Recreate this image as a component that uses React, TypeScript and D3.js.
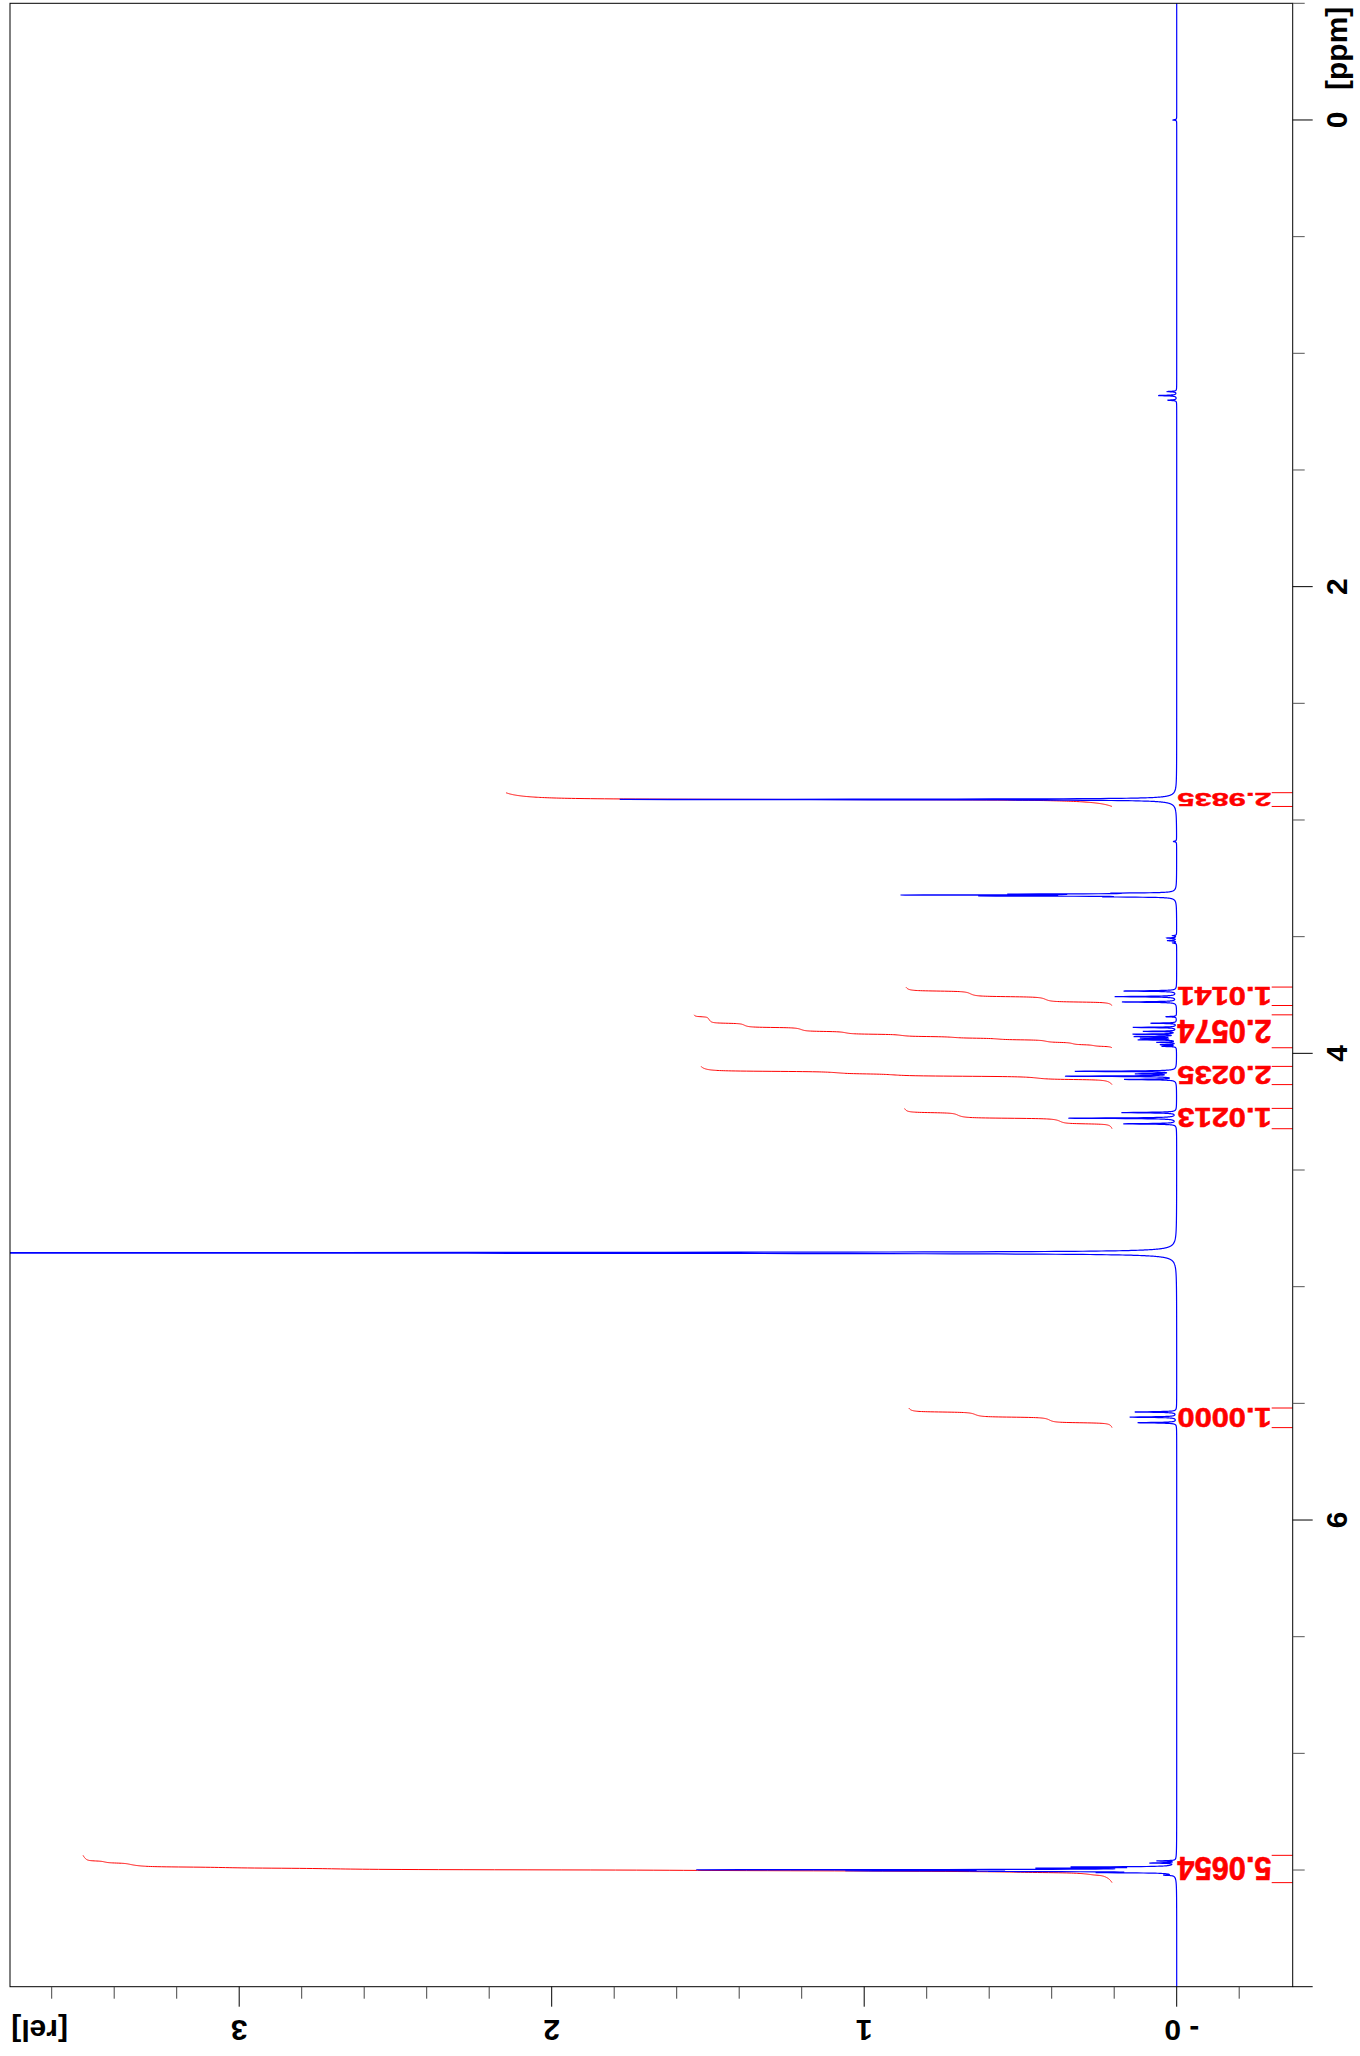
import React, { useMemo } from "react";
import * as d3 from "d3";

const W = 1360;
const H = 2056;

// Chemical shift axis (vertical, ppm)
const ppmDomain = [-0.5, 8.0];
const ppmLabelValues = [0, 2, 4, 6];
const ppmTickStep = 0.5;
// Intensity axis (horizontal, rel)
const relLabelValues = [0, 1, 2, 3];
const relLabelTexts = ["- 0", "1", "2", "3"];
const relTickStep = 0.2;
const relTickMin = -0.2;
const relTickMax = 3.6;

// Peak list: position (ppm), height (rel), half width (ppm)
const peakPpm = [
  0.0,
  1.164, 1.181, 1.201,
  2.912, 2.912,
  3.092,
  3.3135, 3.3175, 3.3215, 3.3255, 3.3295,
  3.496, 3.506, 3.517, 3.527,
  3.733, 3.757, 3.78,
  3.843, 3.871, 3.889, 3.906, 3.918, 3.928, 3.935, 3.942, 3.953, 3.963, 3.97,
  4.077, 4.088, 4.098, 4.112,
  4.254, 4.278, 4.302,
  4.855, 4.855,
  5.537, 5.559, 5.583,
  7.461, 7.47, 7.487, 7.492, 7.499, 7.503, 7.506, 7.511, 7.522,
];
const peakHeight = [
  0.012,
  0.029, 0.059, 0.029,
  1.76, 0.03,
  0.01,
  0.15, 0.45, 0.8, 0.55, 0.17,
  0.012, 0.03, 0.03, 0.012,
  0.169, 0.197, 0.175,
  0.035, 0.083, 0.139, 0.106, 0.138, 0.131, 0.11, 0.12, 0.062, 0.051, 0.046,
  0.323, 0.12, 0.353, 0.164,
  0.176, 0.347, 0.17,
  4.5, 0.02,
  0.134, 0.15, 0.125,
  0.06, 0.08, 0.3, 0.38, 1.45, 0.88, 0.42, 0.2, 0.03,
];
const peakWidth = [
  0.0015,
  0.0015, 0.0015, 0.0015,
  0.0015, 0.012,
  0.002,
  0.0012, 0.0012, 0.0012, 0.0012, 0.0012,
  0.0015, 0.0015, 0.0015, 0.0015,
  0.0015, 0.0015, 0.0015,
  0.0012, 0.0012, 0.0012, 0.0012, 0.0012, 0.0012, 0.0012, 0.0012, 0.0012, 0.0012, 0.0012,
  0.0015, 0.0015, 0.0015, 0.0015,
  0.0015, 0.0015, 0.0015,
  0.0018, 0.01,
  0.0015, 0.0015, 0.0015,
  0.0012, 0.0012, 0.0012, 0.0012, 0.0012, 0.0012, 0.0012, 0.0012, 0.0012,
];

// Integral regions
const integralFrom = [2.883, 3.716, 3.835, 4.056, 4.236, 5.52, 7.437];
const integralTo = [2.942, 3.795, 3.976, 4.134, 4.323, 5.604, 7.554];
const integralValues = [2.9835, 1.0141, 2.0574, 2.0235, 1.0213, 1.0, 5.0654];
const integralLabels = ["2.9835", "1.0141", "2.0574", "2.0235", "1.0213", "1.0000", "5.0654"];
const integralOffset = 0.207; // rel
const integralScale = 0.65; // rel per integral unit

const FONT = "'Liberation Sans', Arial, sans-serif";

export default function App() {
  const frame = { left: 10, right: 1292.7, top: 3.3, bottom: 1986.7 };
  const x = d3.scaleLinear().domain([0, 3]).range([1176.7, 239.2]);
  const y = d3.scaleLinear().domain(ppmDomain).range([frame.top, frame.bottom]);

  const { specPath, integralPaths } = useMemo(() => {
    const step = 0.0003;
    const grid = d3.range(ppmDomain[0], ppmDomain[1] + step / 2, step);
    const spec = grid.map((p) => {
      let s = 0;
      for (let i = 0; i < peakPpm.length; i++) {
        const d = p - peakPpm[i];
        const w2 = peakWidth[i] * peakWidth[i];
        s += (peakHeight[i] * w2) / (d * d + w2);
      }
      return s;
    });
    let sp = "";
    for (let i = 0; i < grid.length; i++) {
      sp += (i === 0 ? "M" : "L") + x(spec[i]).toFixed(2) + "," + y(grid[i]).toFixed(2);
    }
    const ips = integralFrom.map((a, k) => {
      const b = integralTo[k];
      const idx: number[] = [];
      for (let i = grid.length - 1; i >= 0; i--) {
        if (grid[i] >= a && grid[i] <= b) idx.push(i);
      }
      const cum: number[] = [];
      let c = 0;
      idx.forEach((i) => {
        c += spec[i];
        cum.push(c);
      });
      const total = c || 1;
      let path = "";
      idx.forEach((i, j) => {
        const v = integralOffset + integralScale * integralValues[k] * ((j === 0 ? 0 : cum[j]) / total);
        path += (j === 0 ? "M" : "L") + x(v).toFixed(2) + "," + y(grid[i]).toFixed(2);
      });
      return path;
    });
    return { specPath: sp, integralPaths: ips };
  }, []);

  const ppmTicks = d3.range(ppmDomain[0], ppmDomain[1] + 1e-6, ppmTickStep).map((v) => Math.round(v * 100) / 100);
  const relTicks = d3.range(relTickMin, relTickMax + 1e-6, relTickStep).map((v) => Math.round(v * 100) / 100);

  return (
    <svg
      width={W}
      height={H}
      viewBox={`0 0 ${W} ${H}`}
      style={{ position: "absolute", left: 0, top: 0, display: "block", background: "#fff" }}
    >
      <defs>
        <clipPath id="plotclip">
          <rect x={frame.left} y={frame.top} width={frame.right - frame.left} height={frame.bottom - frame.top} />
        </clipPath>
      </defs>
      <rect x={0} y={0} width={W} height={H} fill="#fff" />

      <g clipPath="url(#plotclip)">
        {integralPaths.map((d, k) => (
          <path key={"int" + k} d={d} fill="none" stroke="#ff0000" strokeWidth={1} />
        ))}
        <path d={specPath} fill="none" stroke="#0000ff" strokeWidth={1.2} />
      </g>

      {/* integral brackets and labels */}
      {integralFrom.map((a, k) => {
        const b = integralTo[k];
        const y1 = y(a);
        const y2 = y(b);
        const hPx = Math.min(y2 - y1, 23.5);
        const sy = hPx / 21.5;
        const cy = (y1 + y2) / 2;
        return (
          <g key={"lab" + k}>
            <line x1={1271.7} x2={frame.right} y1={y1} y2={y1} stroke="#ff0000" strokeWidth={1} />
            <line x1={1271.7} x2={frame.right} y1={y2} y2={y2} stroke="#ff0000" strokeWidth={1} />
            <g transform={`translate(1271.5,${cy}) rotate(180) scale(1,${sy})`}>
              <text
                x={0}
                y={10.75}
                fontFamily={FONT}
                fontWeight="bold"
                fontSize={30}
                fill="#ff0000"
                stroke="#ff0000"
                strokeWidth={0.6}
                textAnchor="start"
                textLength={94}
                lengthAdjust="spacingAndGlyphs"
              >
                {integralLabels[k]}
              </text>
            </g>
          </g>
        );
      })}

      {/* frame */}
      <rect
        x={frame.left}
        y={frame.top}
        width={frame.right - frame.left}
        height={frame.bottom - frame.top}
        fill="none"
        stroke="#000"
        strokeWidth={1}
      />

      {/* ppm axis ticks */}
      {ppmTicks.map((v) => {
        const major = Math.abs(v / 2 - Math.round(v / 2)) < 1e-6;
        return (
          <line
            key={"pt" + v}
            x1={frame.right}
            x2={frame.right + (major ? 20 : 12)}
            y1={y(v)}
            y2={y(v)}
            stroke={major ? "#000" : "#555"}
            strokeWidth={1}
          />
        );
      })}
      {ppmLabelValues.map((v) => (
        <g key={"pl" + v} transform={`translate(1347,${y(v)}) rotate(-90)`}>
          <text x={0} y={0} textAnchor="middle" fontFamily={FONT} fontWeight="bold" fontSize={30} fill="#000">
            {String(v)}
          </text>
        </g>
      ))}
      <g transform={`translate(1347,90) rotate(-90)`}>
        <text x={0} y={0} textAnchor="start" fontFamily={FONT} fontWeight="bold" fontSize={30} fill="#000">
          [ppm]
        </text>
      </g>

      {/* rel axis ticks */}
      {relTicks.map((v) => {
        const major = Math.abs(v - Math.round(v)) < 1e-6;
        return (
          <line
            key={"rt" + v}
            x1={x(v)}
            x2={x(v)}
            y1={frame.bottom}
            y2={frame.bottom + (major ? 20 : 12)}
            stroke={major ? "#000" : "#444"}
            strokeWidth={1}
          />
        );
      })}
      {relLabelValues.map((v, i) => {
        const isZero = v === 0;
        const tx = isZero ? x(v) - 12.5 : x(v);
        return (
          <g key={"rl" + v} transform={`translate(${tx},2020) rotate(180)`}>
            <text
              x={0}
              y={0}
              textAnchor={isZero ? "end" : "middle"}
              fontFamily={FONT}
              fontWeight="bold"
              fontSize={30}
              fill="#000"
            >
              {relLabelTexts[i]}
            </text>
          </g>
        );
      })}
      <g transform={`translate(68,2020) rotate(180)`}>
        <text x={0} y={0} textAnchor="start" fontFamily={FONT} fontWeight="bold" fontSize={30} fill="#000">
          [rel]
        </text>
      </g>
    </svg>
  );
}
